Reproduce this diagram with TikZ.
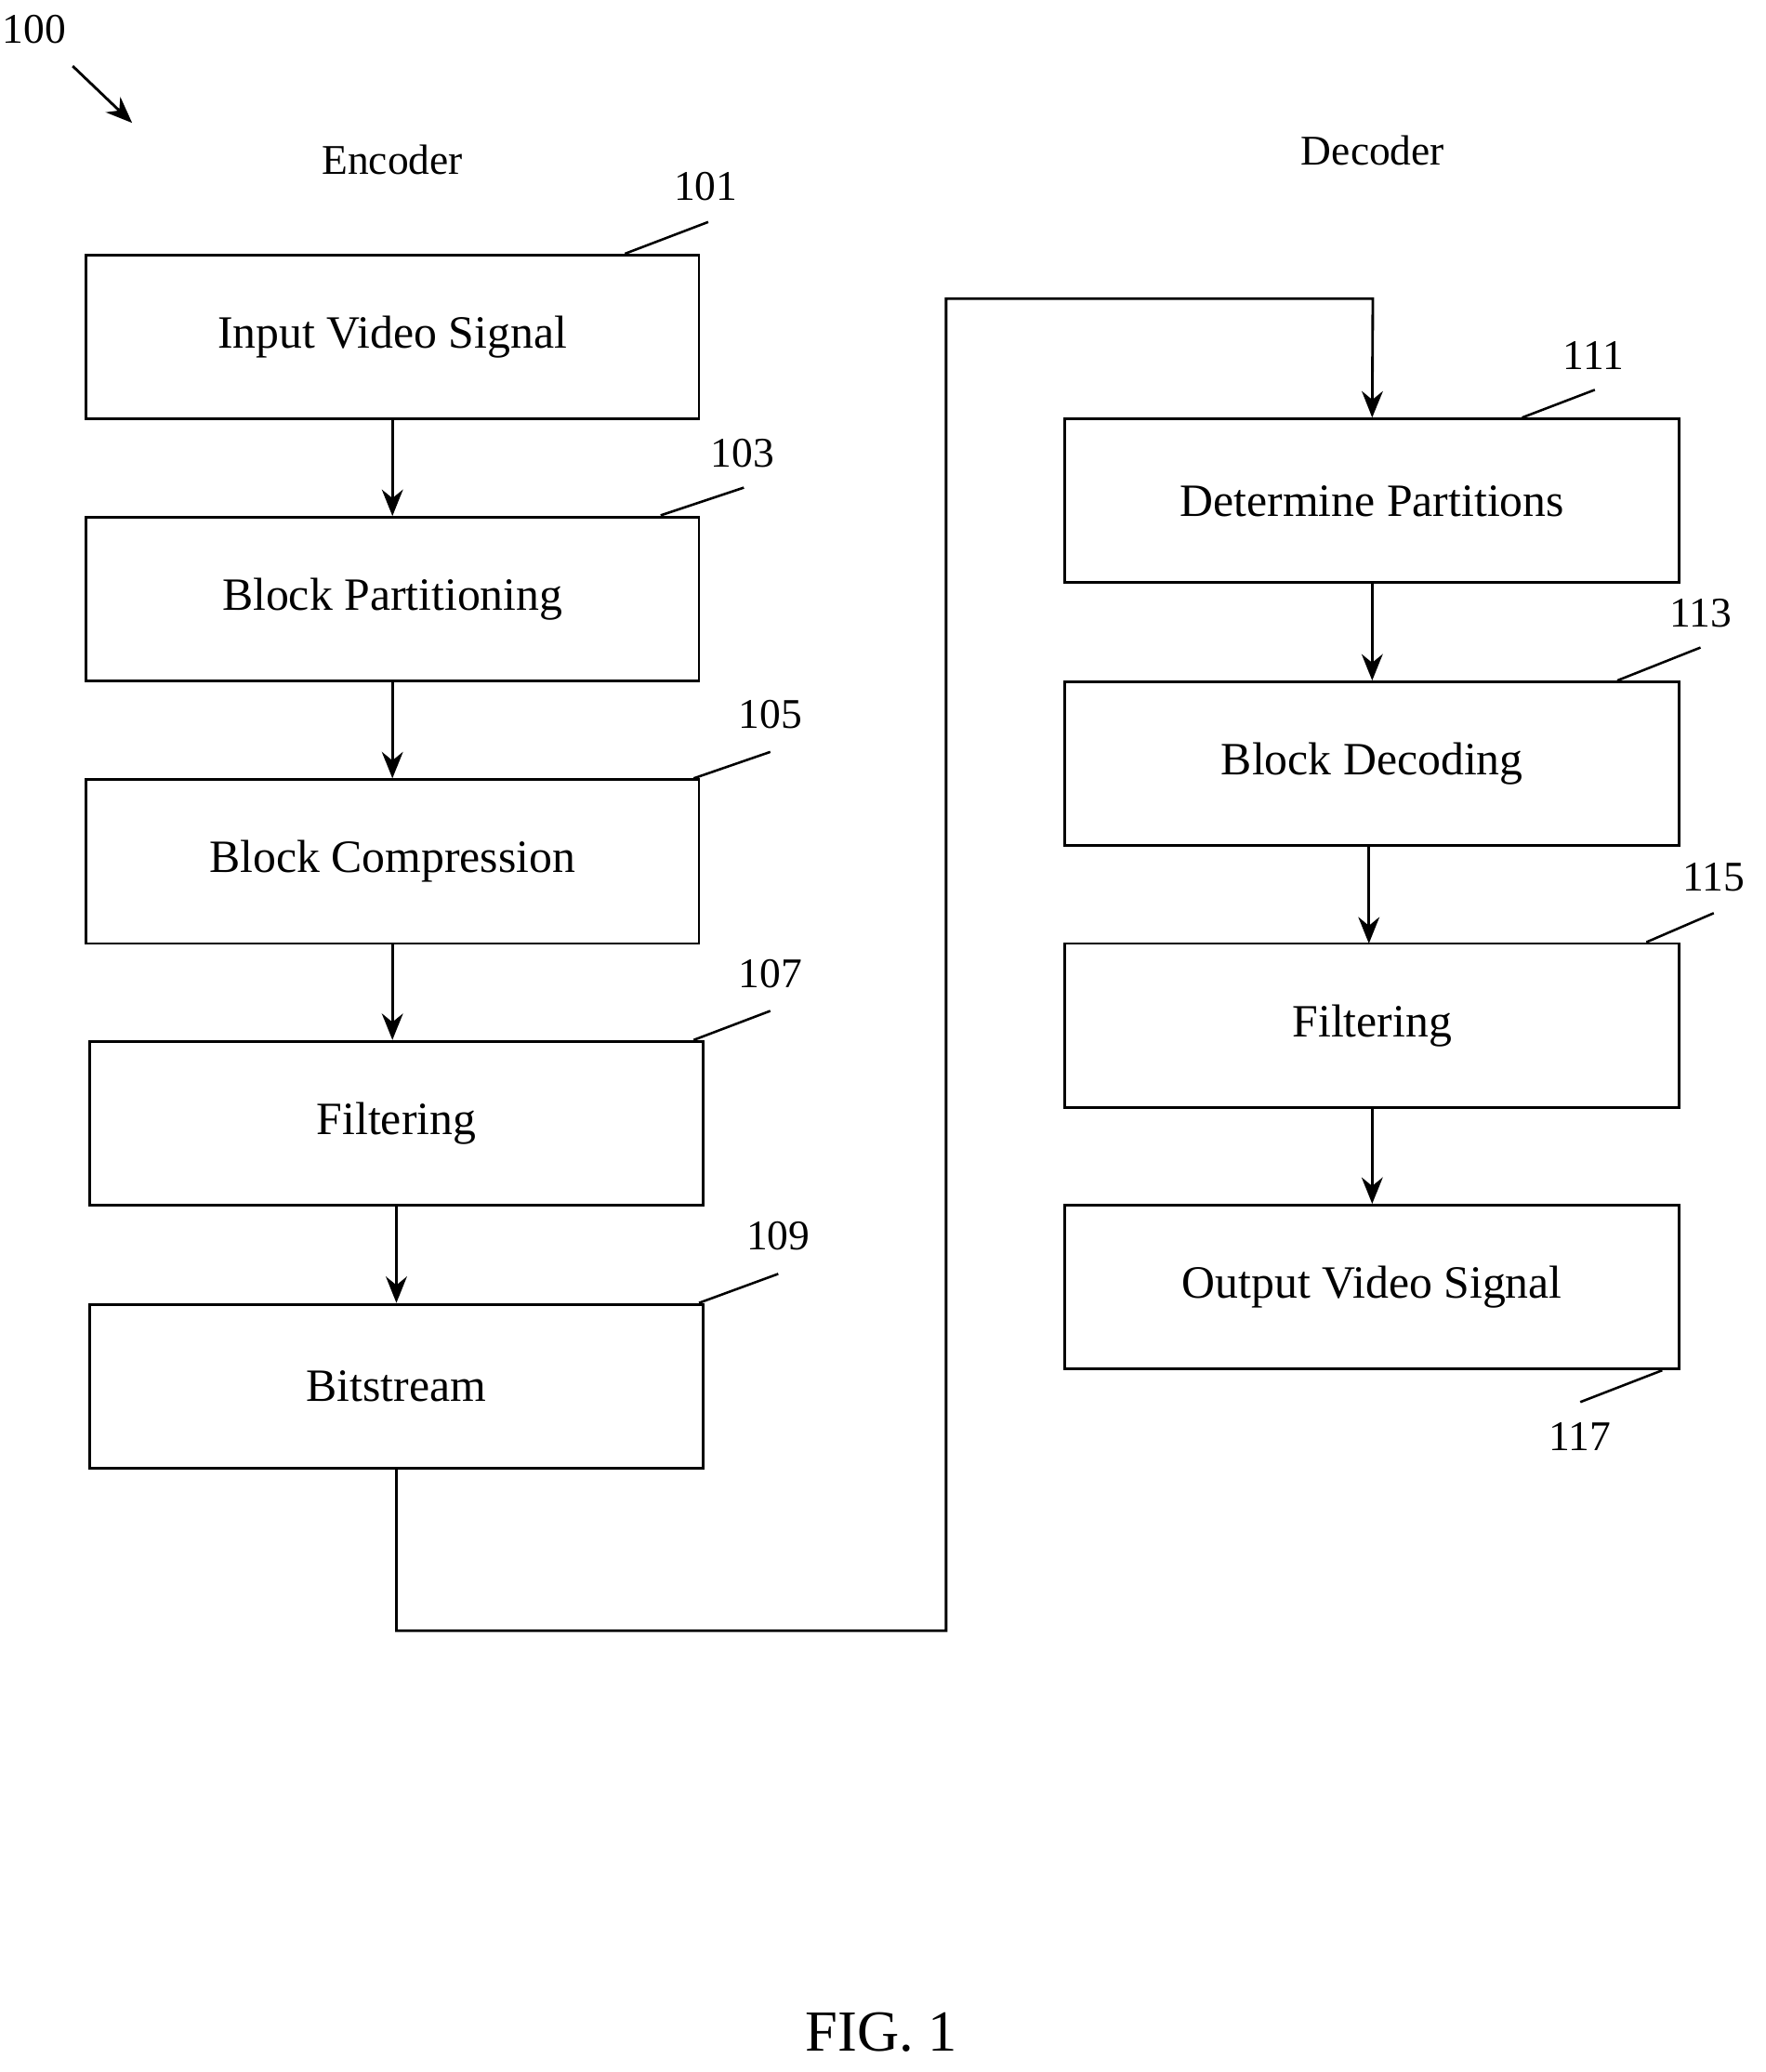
\documentclass[tikz,border=0pt]{standalone}
\usepackage{fontspec}
\setmainfont{Liberation Serif}
\usetikzlibrary{arrows.meta}
\begin{document}
\begin{tikzpicture}[x=1pt,y=-1pt,line width=2pt,
 box/.style={draw,minimum width=464pt,minimum height=124pt,inner sep=0pt,font=\fontsize{35}{38}\selectfont},
 num/.style={font=\fontsize{32}{36}\selectfont,inner sep=0pt},
 arr/.style={-{Stealth[length=20pt,width=16pt]}}]
\useasboundingbox (0,0) rectangle (1336,1568);
\node[box] (b101) at (297,255) {Input Video Signal};
\node[box] (b103) at (297,453.5) {Block Partitioning};
\node[box] (b105) at (297,652) {Block Compression};
\node[box] (b107) at (300,850) {Filtering};
\node[box] (b109) at (300,1049) {Bitstream};
\node[box,minimum width=465pt] (b111) at (1038.5,379) {Determine Partitions};
\node[box,minimum width=465pt] (b113) at (1038.5,578) {Block Decoding};
\node[box,minimum width=465pt] (b115) at (1038.5,776) {Filtering};
\node[box,minimum width=465pt] (b117) at (1038.5,974) {Output Video Signal};
\draw[arr] (b101) -- (b103);
\draw[arr] (b103) -- (b105);
\draw[arr] (b105.south) -- (b105.south |- b107.north);
\draw[arr] (b107) -- (b109);
\draw[arr] (b111) -- (b113);
\draw[arr] (1036,640) -- (1036,714);
\draw[arr] (b115) -- (b117);
\coordinate (c1) at (300,1234);
\coordinate (c2) at (716,1234);
\coordinate (c3) at (716,226);
\coordinate (c4) at (1039,226);
\draw[arr] (b109.south) -- (c1) -- (c2) -- (c3) -- (c4) -- (b111.north);
\tikzset{lead/.style={line width=1.8pt}}
\node[num] (n101) at (534,141) {101}; \draw[lead] (473,192) -- (536,168);
\node[num] (n103) at (562,343) {103}; \draw[lead] (500,390) -- (563,369);
\node[num] (n105) at (583,541) {105}; \draw[lead] (525,589) -- (583,569);
\node[num] (n107) at (583,737) {107}; \draw[lead] (525,787) -- (583,765);
\node[num] (n109) at (589,935) {109}; \draw[lead] (529,986) -- (589,964);
\node[num] (n111) at (1206,269) {111}; \draw[lead] (1152,316) -- (1207,295);
\node[num] (n113) at (1287,464) {113}; \draw[lead] (1224,515) -- (1287,490);
\node[num] (n115) at (1297,664) {115}; \draw[lead] (1246,713) -- (1297,691);
\node[num] (n117) at (1196,1087) {117}; \draw[lead] (1196,1061) -- (1258,1037);
\node[num] (n100) at (26,22) {100};
\coordinate (a1) at (55,50); \coordinate (a2) at (100,93);
\draw[arr] (a1) -- (a2);
\node[num] (enc) at (297,121) {Encoder};
\node[num] (dec) at (1039,114) {Decoder};
\node[font=\fontsize{44}{48}\selectfont,inner sep=0pt] (fig) at (667,1538) {FIG. 1};
\end{tikzpicture}
\end{document}
